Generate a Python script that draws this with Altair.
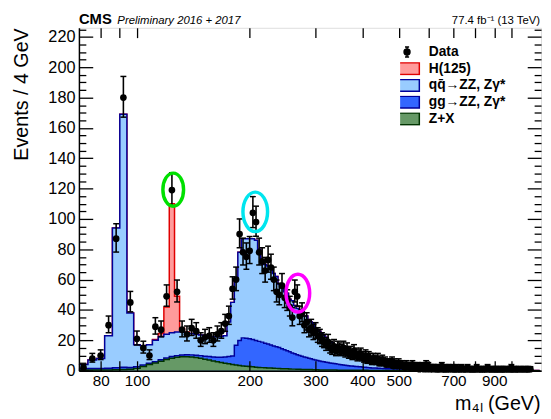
import altair as alt
import pandas as pd

FONT = "Liberation Sans"

# ---------------- binning: 4 GeV bins starting at 70 GeV ----------------
BIN_START = 70
BIN_WIDTH = 4

# observed events per 4 GeV bin (rows of 10 bins = 40 GeV), from 70 GeV
data_counts = [
    2, 8, 10, 30, 87, 180, 45, 21, 15, 10,
    29, 27, 49, 119, 52, 27, 24, 28, 26, 20,
    22, 23, 20, 24, 26, 31, 36, 54, 60, 90,
    78, 75, 79, 104, 98, 78, 72, 66, 73, 68,
    60, 52, 50, 56, 48, 46, 42, 35, 52, 49,
    36, 38, 30, 32, 27, 28, 25, 26, 23, 22,
    20, 19, 17, 19, 15, 14, 16, 13, 15, 14,
    13, 15, 12, 14, 11, 12, 10, 13, 11, 9,
    10, 11, 9, 8, 10, 7, 9, 8, 6, 8,
    7, 6, 8, 5, 6, 7, 5, 6, 4, 5,
    5, 4, 6, 3, 5, 4, 3, 5, 4, 3,
    4, 3, 2, 4, 3, 3, 2, 3, 4, 2,
    3, 2, 2, 3, 1, 2, 3, 2, 1, 2,
    4, 1, 3, 2, 1, 2, 1, 2, 2, 1,
    1, 2, 1, 1, 2, 3, 1, 1, 1, 2,
    1, 1, 2, 1, 0, 1, 2, 1, 1, 1,
    2, 1, 1, 0, 1, 1, 2, 1, 0, 1,
    1, 1, 0, 2, 1, 1, 0, 1, 1, 1,
    0, 1, 1, 1, 2, 0, 1, 1, 0, 1,
    1, 0, 1, 1, 0, 1, 1, 0, 2, 1,
    0, 1, 1, 0, 1, 0, 1, 1, 0, 1,
    1, 0, 1, 1, 0, 1, 0, 1, 1, 0,
    1, 1, 0, 1, 0, 0, 1, 1, 0, 1,
    0, 1, 2, 1, 1, 0, 1, 0, 0, 1,
    1, 0, 1, 0, 1, 0, 0, 1, 0, 1,
    0, 1, 0, 0, 1, 0, 1, 0, 1, 0,
    1, 0, 0, 1, 0, 0, 0, 0, 0, 0,
]

# qq -> ZZ, Zgamma* expectation per bin
qq_vals = [
    2.7, 5.6, 6.6, 21.4, 92.1, 166.8, 35.9, 14.5, 12.8, 12.1,
    14.1, 15.3, 15.7, 15.7, 15.6, 15.2, 14.5, 14.1, 13.8, 13.6,
    13.5, 13.2, 13.3, 13.4, 13.6, 14.0, 22.7, 35.4, 43.3, 58.1,
    65.4, 65.6, 66.0, 66.5, 66.1, 60.7, 53.2, 51.9, 51.5, 50.1,
    47.8, 46.3, 41.8, 40.5, 38.2, 37.9, 34.6, 34.3, 31.9, 30.5,
    30.0, 29.5, 27.0, 27.4, 24.8, 24.2, 23.6, 21.0, 20.3, 19.6,
    18.4, 17.2, 16.4, 14.7, 13.9, 13.6, 12.3, 11.5, 11.2, 10.9,
    10.6, 10.3, 9.9, 9.6, 9.2, 8.9, 8.5, 8.1, 7.9, 7.6,
    7.3, 7.1, 6.8, 6.6, 6.4, 6.1, 5.9, 5.7, 5.5, 5.3,
    5.1, 4.9, 4.8, 4.6, 4.4, 4.3, 4.1, 4.0, 3.8, 3.7,
    3.6, 3.5, 3.4, 3.3, 3.2, 3.1, 3.0, 2.9, 2.8, 2.7,
    2.6, 2.6, 2.5, 2.4, 2.4, 2.3, 2.2, 2.2, 2.1, 2.1,
    2.0, 2.0, 1.9, 1.9, 1.8, 1.8, 1.7, 1.7, 1.7, 1.6,
    1.6, 1.5, 1.5, 1.5, 1.4, 1.4, 1.4, 1.3, 1.3, 1.3,
    1.2, 1.2, 1.2, 1.2, 1.1, 1.1, 1.1, 1.0, 1.0, 1.0,
    1.0, 0.9, 0.9, 0.9, 0.9, 0.9, 0.8, 0.8, 0.8, 0.8,
    0.8, 0.7, 0.7, 0.7, 0.7, 0.7, 0.7, 0.6, 0.6, 0.6,
    0.6, 0.6, 0.6, 0.6, 0.5, 0.5, 0.5, 0.5, 0.5, 0.5,
    0.5, 0.5, 0.5, 0.4, 0.4, 0.4, 0.4, 0.4, 0.4, 0.4,
    0.4, 0.4, 0.4, 0.4, 0.4, 0.3, 0.3, 0.3, 0.3, 0.3,
    0.3, 0.3, 0.3, 0.3, 0.3, 0.3, 0.3, 0.3, 0.3, 0.3,
    0.3, 0.3, 0.3, 0.3, 0.3, 0.3, 0.2, 0.2, 0.2, 0.2,
    0.2, 0.2, 0.2, 0.2, 0.2, 0.2, 0.2, 0.2, 0.2, 0.2,
    0.2, 0.2, 0.2, 0.2, 0.2, 0.2, 0.2, 0.2, 0.2, 0.2,
    0.2, 0.2, 0.2, 0.2, 0.2, 0.1, 0.1, 0.1, 0.1, 0.1,
    0.1, 0.1, 0.1, 0.1, 0.1, 0.1, 0.1, 0.1, 0.1, 0.1,
    0.1, 0.1, 0.1, 0.1, 0.1, 0.1, 0.1, 0.1, 0.1, 0.1,
    0.1, 0.1, 0.1, 0.1, 0.1, 0.1, 0.1, 0.1, 0.1, 0.1,
]

# gg -> ZZ, Zgamma* expectation per bin (zero beyond the listed bins)
gg_vals = [
    1.0, 1.0, 1.0, 1.1, 1.3, 1.5, 1.2, 1.0, 0.9, 0.9,
    0.9, 1.0, 1.0, 1.1, 1.1, 1.2, 1.3, 1.4, 1.6, 1.8,
    2.0, 2.3, 2.6, 3.0, 3.5, 4.1, 4.8, 5.5, 13.0, 16.5,
    18.5, 18.5, 18.3, 18.0, 17.6, 17.2, 16.8, 16.2, 15.7, 15.2,
    14.6, 14.2, 13.8, 13.2, 12.6, 11.9, 11.3, 10.7, 10.1, 9.6,
    9.1, 8.7, 8.2, 7.9, 7.5, 7.1, 6.8, 6.4, 6.1, 5.9,
    5.6, 5.3, 5.1, 4.9, 4.7, 4.5, 4.3, 4.1, 4.0, 3.8,
    3.6, 3.4, 3.3, 3.1, 3.0, 2.9, 2.8, 2.7, 2.6, 2.5,
    2.4, 2.3, 2.2, 2.1, 2.0, 1.9, 1.9, 1.8, 1.7, 1.7,
    1.6, 1.6, 1.5, 1.5, 1.4, 1.4, 1.3, 1.3, 1.2, 1.2,
    1.2, 1.1, 1.1, 1.1, 1.0, 1.0, 1.0, 0.9, 0.9, 0.9,
    0.9, 0.8, 0.8, 0.8, 0.8, 0.7, 0.7, 0.7, 0.7, 0.7,
    0.6, 0.6, 0.6, 0.6, 0.6, 0.6, 0.5, 0.5, 0.5, 0.5,
    0.5, 0.5, 0.5, 0.5, 0.5, 0.4, 0.4, 0.4, 0.4, 0.4,
    0.4, 0.4, 0.4, 0.4, 0.4, 0.3, 0.3, 0.3, 0.3, 0.3,
]

# Z+X (reducible background) per bin (zero beyond the listed bins)
zx_vals = [
    0.3, 0.4, 0.4, 0.5, 0.6, 0.7, 0.9, 1.5, 2.8, 4.0,
    5.0, 6.2, 7.3, 8.2, 8.8, 9.1, 9.2, 9.0, 8.6, 8.1,
    7.5, 7.0, 6.4, 5.9, 5.4, 4.9, 4.5, 4.1, 3.7, 3.4,
    3.1, 2.9, 2.7, 2.5, 2.3, 2.1, 2.0, 1.9, 1.8, 1.7,
    1.6, 1.5, 1.4, 1.3, 1.2, 1.2, 1.1, 1.0, 1.0, 0.9,
    0.9, 0.8, 0.8, 0.7, 0.7, 0.7, 0.6, 0.6, 0.6, 0.5,
    0.5, 0.5, 0.5, 0.4, 0.4, 0.4, 0.4, 0.4, 0.3, 0.3,
    0.3, 0.3, 0.3, 0.3, 0.3, 0.2, 0.2, 0.2, 0.2, 0.2,
    0.2, 0.2, 0.2, 0.2, 0.2, 0.2, 0.1, 0.1, 0.1, 0.1,
    0.1, 0.1, 0.1, 0.1, 0.1, 0.1, 0.1, 0.1, 0.1, 0.1,
    0.1, 0.1, 0.1, 0.1, 0.1, 0.1, 0.1, 0.1, 0.1, 0.1,
]

# H(125) signal: lower bin edges and values
h_bin_lo = [110, 114, 118, 122, 126, 130, 134]
h_vals = [0.5, 2.0, 18.0, 85.0, 23.5, 2.5, 0.5]

# highlighted points (circled in the figure)
ring_mass = [125.0, 207.0, 269.0]
ring_events = [119.3, 104.7, 51.1]

# axis ticks / labels
X_TICKS = [80, 90, 100, 200, 300, 400, 500, 600, 700, 800, 900, 1000]
X_LABELS = [80, 100, 200, 300, 400, 500, 700, 900]
Y_MAJOR = [0, 20, 40, 60, 80, 100, 120, 140, 160, 180, 200, 220]
Y_MINOR = [5, 10, 15, 25, 30, 35, 45, 50, 55, 65, 70, 75, 85, 90, 95,
           105, 110, 115, 125, 130, 135, 145, 150, 155, 165, 170, 175,
           185, 190, 195, 205, 210, 215, 225]

legend_labels = ["Data", "H(125)", "qq\u0304\u2192ZZ, Z\u03b3*", "gg\u2192ZZ, Z\u03b3*", "Z+X"]

# ---------------- styles ----------------
H_FILL, H_LINE = "#ff9b9b", "#e00000"
QQ_FILL, QQ_LINE = "#99ccff", "#000099"
GG_FILL, GG_LINE = "#3366ff", "#000099"
ZX_FILL, ZX_LINE = "#669966", "#003300"
RING_STYLES = [("#00e000", 441), ("#00e5ee", 625), ("#ff00ff", 576)]
ELLIPSE = "M-1,0A1,1.6 0 1,1 1,0A1,1.6 0 1,1 -1,0Z"
BOX = "M-2.08,-1H2.08V1H-2.08Z"
DATA_SYM = ("M0,-0.85V0.85M-0.35,-0.85H0.35M-0.35,0.85H0.35"
            "M-0.5,0A0.5,0.5 0 1,0 0.5,0A0.5,0.5 0 1,0 -0.5,0Z")

W, H = 469, 348

# ---------------- tables ----------------
n_bins = len(qq_vals)
lo_edges = [BIN_START + BIN_WIDTH * i for i in range(n_bins)]


def padded(v):
    return list(v) + [0.0] * (n_bins - len(v))


zx = padded(zx_vals)
gg = padded(gg_vals)
qq = list(qq_vals)
hh = [0.0] * n_bins
for e, v in zip(h_bin_lo, h_vals):
    hh[(e - BIN_START) // BIN_WIDTH] = v

cum_zx = zx
cum_gg = [a + b for a, b in zip(cum_zx, gg)]
cum_qq = [a + b for a, b in zip(cum_gg, qq)]
cum_h = [a + b for a, b in zip(cum_qq, hh)]

rows = []
for comp, lev in (("h", cum_h), ("qq", cum_qq), ("gg", cum_gg), ("zx", cum_zx)):
    for i in range(n_bins):
        rows.append({"comp": comp, "edge": lo_edges[i], "level": lev[i]})
    rows.append({"comp": comp, "edge": lo_edges[-1] + BIN_WIDTH, "level": lev[-1]})
hist = pd.DataFrame(rows)

counts = padded(data_counts)
pts = pd.DataFrame({"center": [e + BIN_WIDTH / 2 for e in lo_edges], "n": counts})
pts = pts[pts.n > 0].copy()
pts["lo"] = pts.n - (pts.n + 0.25) ** 0.5 + 0.5
pts["hi"] = pts.n + (pts.n + 0.25) ** 0.5 + 0.5

rings = pd.DataFrame({"m": ring_mass, "ev": ring_events})

# ---------------- scales & axes ----------------
xs = alt.Scale(type="log", domain=[70, 1200], nice=False)
ys = alt.Scale(domain=[0, 226], nice=False, zero=False)

tick_common = dict(grid=False, domain=False, labels=False, title=None,
                   tickColor="black", tickWidth=1.3, zindex=1)

ax_x_lab = alt.Axis(orient="bottom", values=X_LABELS, ticks=False, tickSize=0,
                    labelPadding=3, labelFont=FONT, labelFontSize=15.5, labelColor="black",
                    labelFlush=False, labelOverlap=False, format="d", grid=False,
                    domain=True, domainColor="black", domainWidth=1.5, zindex=1,
                    title="m\u2084\u2097 (GeV)", titleFont=FONT, titleFontSize=20,
                    titleFontWeight="normal", titleColor="black", titleX=468, titleY=39,
                    titleAlign="right", titleBaseline="alphabetic", titleAngle=0)
ax_x_bot = alt.Axis(orient="bottom", values=X_TICKS, offset=-10, tickSize=10, **tick_common)
ax_x_top = alt.Axis(orient="top", values=X_TICKS, offset=-10, tickSize=10, **tick_common)

ay_lab = alt.Axis(orient="left", values=Y_MAJOR, ticks=False, tickSize=0, labelPadding=4,
                  labelFont=FONT, labelFontSize=16.5, labelColor="black", labelFlush=False,
                  labelOverlap=False, grid=False, domain=True, domainColor="black",
                  domainWidth=1.5, zindex=1, title="Events / 4 GeV", titleFont=FONT,
                  titleFontSize=20, titleFontWeight="normal", titleColor="black",
                  titleX=-52, titleY=0, titleAlign="right", titleBaseline="alphabetic",
                  titleAngle=-90)
ay_l_major = alt.Axis(orient="left", values=Y_MAJOR, offset=-14, tickSize=14, **tick_common)
ay_l_minor = alt.Axis(orient="left", values=Y_MINOR, offset=-7, tickSize=7, **tick_common)
ay_r_major = alt.Axis(orient="right", values=Y_MAJOR, offset=-14, tickSize=14, **tick_common)
ay_r_minor = alt.Axis(orient="right", values=Y_MINOR, offset=-7, tickSize=7, **tick_common)


def stack_layers(comp, fill, line, axes):
    base = alt.Chart(hist).transform_filter(alt.datum.comp == comp)
    area = base.mark_area(interpolate="step-after", color=fill, opacity=1).encode(
        x=alt.X("edge:Q", scale=xs, axis=axes[0]),
        y=alt.Y("level:Q", scale=ys, axis=axes[1]))
    ln = base.mark_line(interpolate="step-after", color=line, strokeWidth=1.5, opacity=1).encode(
        x=alt.X("edge:Q", scale=xs, axis=axes[2]),
        y=alt.Y("level:Q", scale=ys, axis=axes[3]))
    return [area, ln]


layers = []
layers += stack_layers("h", H_FILL, H_LINE, (ax_x_lab, ay_lab, ax_x_bot, ay_l_major))
layers += stack_layers("qq", QQ_FILL, QQ_LINE, (ax_x_top, ay_l_minor, None, ay_r_major))
layers += stack_layers("gg", GG_FILL, GG_LINE, (None, ay_r_minor, None, None))
layers += stack_layers("zx", ZX_FILL, ZX_LINE, (None, None, None, None))

pbase = alt.Chart(pts)
layers.append(pbase.mark_rule(color="black", strokeWidth=1.6).encode(
    x=alt.X("center:Q", scale=xs, axis=None),
    y=alt.Y("lo:Q", scale=ys, axis=None), y2="hi:Q"))
for fld in ("lo", "hi"):
    layers.append(pbase.mark_tick(orient="horizontal", size=6, thickness=1.5,
                                  color="black", opacity=1).encode(
        x=alt.X("center:Q", scale=xs, axis=None),
        y=alt.Y(f"{fld}:Q", scale=ys, axis=None)))
layers.append(pbase.mark_circle(size=46, color="black", opacity=1).encode(
    x=alt.X("center:Q", scale=xs, axis=None),
    y=alt.Y("n:Q", scale=ys, axis=None)))

for i, (col, sz) in enumerate(RING_STYLES):
    layers.append(alt.Chart(rings.iloc[[i]]).mark_point(
        shape=ELLIPSE, size=sz, filled=False, stroke=col, strokeWidth=3.5, opacity=1).encode(
        x=alt.X("m:Q", scale=xs, axis=None),
        y=alt.Y("ev:Q", scale=ys, axis=None)))

one = pd.DataFrame({"k": [0]})
layers.append(alt.Chart(one).mark_text(text="CMS", font=FONT, fontSize=15, fontWeight="bold",
                                       align="left", baseline="alphabetic", color="black").encode(
    x=alt.value(0), y=alt.value(-4)))
layers.append(alt.Chart(one).mark_text(text="Preliminary 2016 + 2017", font=FONT, fontSize=11.5,
                                       fontStyle="italic", align="left", baseline="alphabetic",
                                       color="black").encode(x=alt.value(39), y=alt.value(-4)))
layers.append(alt.Chart(one).mark_text(text="77.4 fb\u207b\u00b9 (13 TeV)", font=FONT, fontSize=11.5,
                                       align="right", baseline="alphabetic", color="black").encode(
    x=alt.value(468), y=alt.value(-4)))

leg = alt.Legend(orient="none", legendX=326, legendY=18, title=None, direction="vertical",
                 labelFont=FONT, labelFontSize=14, labelFontWeight="bold", labelColor="black",
                 symbolSize=144, symbolStrokeWidth=1.5, labelOffset=15, rowPadding=2,
                 clipHeight=13, padding=0)
legend_layer = alt.Chart(pd.DataFrame({"entry": legend_labels})).transform_filter("false").mark_point(
    filled=True, opacity=1).encode(
    x=alt.value(0), y=alt.value(0),
    fill=alt.Fill("entry:N", scale=alt.Scale(domain=legend_labels,
                                             range=["black", H_FILL, QQ_FILL, GG_FILL, ZX_FILL]),
                  legend=leg),
    stroke=alt.Stroke("entry:N", scale=alt.Scale(domain=legend_labels,
                                                 range=["black", H_LINE, QQ_LINE, GG_LINE, ZX_LINE]),
                      legend=leg),
    shape=alt.Shape("entry:N", scale=alt.Scale(domain=legend_labels,
                                               range=[DATA_SYM, BOX, BOX, BOX, BOX]),
                    legend=leg))
layers.append(legend_layer)

chart = alt.layer(*layers).resolve_axis(x="independent", y="independent").properties(
    width=W, height=H,
    padding={"left": 72, "top": 17, "right": 2, "bottom": 46},
    autosize=alt.AutoSizeParams(type="none"),
).configure_view(stroke="black", strokeWidth=1.5).configure(font=FONT)

chart.save("out.html", embed_options={"renderer": "svg", "actions": False})
